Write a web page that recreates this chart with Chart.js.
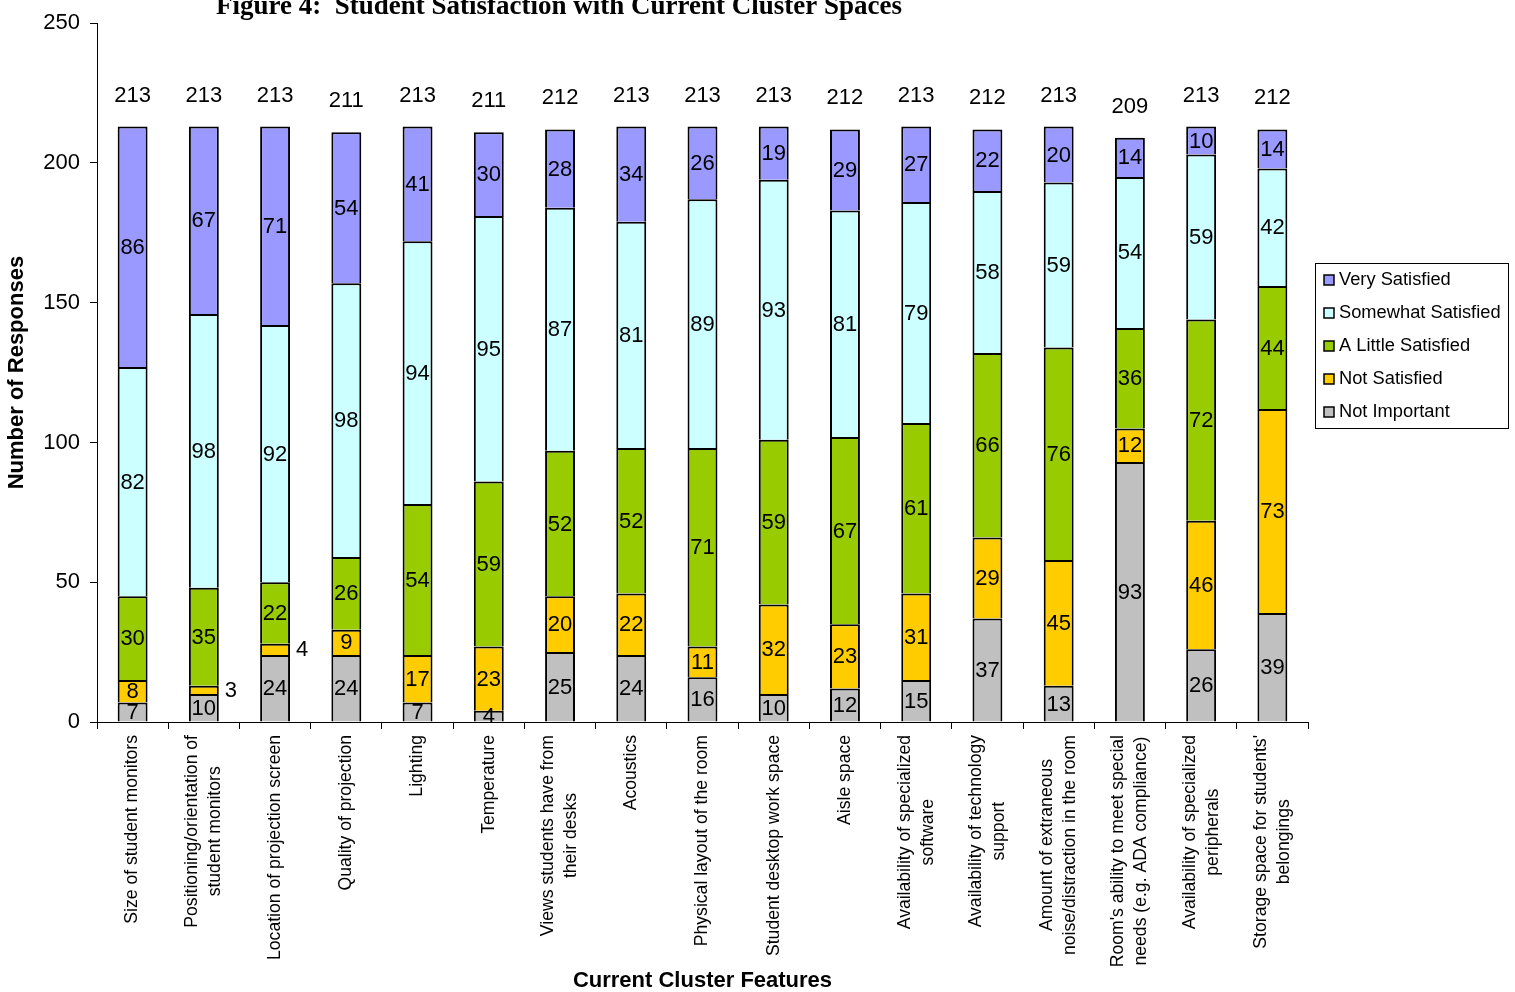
<!DOCTYPE html>
<html>
<head>
<meta charset="utf-8">
<script src="https://cdn.jsdelivr.net/npm/chart.js@4.4.1/dist/chart.umd.min.js"></script>
<style>
  html, body { margin: 0; padding: 0; background: #fff; }
  #wrap { width: 1515px; height: 992px; }
</style>
</head>
<body>
<div id="wrap"><canvas id="graph" width="1515" height="992"></canvas></div>
<script>
// 設問（2行ラベルは配列で）
const features = [
  ['Size of student monitors'],
  ['Positioning/orientation of', 'student monitors'],
  ['Location of projection screen'],
  ['Quality of projection'],
  ['Lighting'],
  ['Temperature'],
  ['Views students have from', 'their desks'],
  ['Acoustics'],
  ['Physical layout of the room'],
  ['Student desktop work space'],
  ['Aisle space'],
  ['Availability of specialized', 'software'],
  ['Availability of technology', 'support'],
  ['Amount of extraneous', 'noise/distraction in the room'],
  ["Room's ability to meet special", 'needs (e.g. ADA compliance)'],
  ['Availability of specialized', 'peripherals'],
  ["Storage space for students'", 'belongings']
];

// 回答数（下から積み上げ順）
const notImportant      = [7, 10, 24, 24, 7, 4, 25, 24, 16, 10, 12, 15, 37, 13, 93, 26, 39];
const notSatisfied      = [8, 3, 4, 9, 17, 23, 20, 22, 11, 32, 23, 31, 29, 45, 12, 46, 73];
const littleSatisfied   = [30, 35, 22, 26, 54, 59, 52, 52, 71, 59, 67, 61, 66, 76, 36, 72, 44];
const somewhatSatisfied = [82, 98, 92, 98, 94, 95, 87, 81, 89, 93, 81, 79, 58, 59, 54, 59, 42];
const verySatisfied     = [86, 67, 71, 54, 41, 30, 28, 34, 26, 19, 29, 27, 22, 20, 14, 10, 14];

const seriesNames = ['Not Important', 'Not Satisfied', 'A Little Satisfied', 'Somewhat Satisfied', 'Very Satisfied'];
const yTicks = [0, 50, 100, 150, 200, 250];

const SANS = 'Arial, "Liberation Sans", sans-serif';
const SERIF = '"Times New Roman", "Liberation Serif", serif';
const COLORS = {
  'Not Important': '#C0C0C0',
  'Not Satisfied': '#FFCC00',
  'A Little Satisfied': '#99CC00',
  'Somewhat Satisfied': '#CCFFFF',
  'Very Satisfied': '#9999FF'
};

//合計値
const totals = features.map((f, i) =>
  notImportant[i] + notSatisfied[i] + littleSatisfied[i] + somewhatSatisfied[i] + verySatisfied[i]);

//棒の中の数値と合計
const barLabelPlugin = {
  id: 'barLabels',
  afterDatasetsDraw(chart) {
    const ctx = chart.ctx;
    ctx.save();
    ctx.font = '22px ' + SANS;
    ctx.fillStyle = '#000';
    ctx.textBaseline = 'middle';
    chart.data.datasets.forEach((ds, di) => {
      const meta = chart.getDatasetMeta(di);
      meta.data.forEach((bar, i) => {
        const v = ds.data[i];
        const p = bar.getProps(['x', 'y', 'base', 'width'], true);
        const cy = (p.y + p.base) / 2 + 1;
        // 細すぎる Not Satisfied は棒の右側へ
        if (ds.label === 'Not Satisfied' && v < 5) {
          ctx.textAlign = 'left';
          ctx.fillText(String(v), p.x + p.width / 2 + 6, cy);
        } else {
          ctx.textAlign = 'center';
          ctx.fillText(String(v), p.x, cy);
        }
      });
    });
    const xs = chart.scales.x, ys = chart.scales.y;
    ctx.textAlign = 'center';
    totals.forEach((t, i) => {
      ctx.fillText(String(t), xs.getPixelForValue(i), ys.getPixelForValue(t) - 31);
    });
    ctx.restore();
  }
};

//タイトル、x軸ラベル、凡例
const decorPlugin = {
  id: 'decor',
  afterDraw(chart) {
    const ctx = chart.ctx;
    const xs = chart.scales.x;
    ctx.save();
    ctx.fillStyle = '#000';

    // タイトル
    ctx.font = 'bold 27px ' + SERIF;
    ctx.textAlign = 'center';
    ctx.textBaseline = 'alphabetic';
    ctx.fillText('Figure 4:  Student Satisfaction with Current Cluster Spaces', 559, 14);

    // x軸ラベル（縦書き、中央揃え）
    ctx.font = '17.6px ' + SANS;
    ctx.textBaseline = 'middle';
    features.forEach((lines, i) => {
      const x = xs.getPixelForValue(i);
      const w = Math.max(...lines.map(l => ctx.measureText(l).width));
      ctx.save();
      ctx.translate(x, xs.top + 13 + w / 2);
      ctx.rotate(-Math.PI / 2);
      lines.forEach((l, j) => {
        ctx.fillText(l, 0, (j - (lines.length - 1) / 2) * 23);
      });
      ctx.restore();
    });

    // 凡例
    const lx = 1315, ly = 263, lw = 193, lh = 165;
    ctx.lineWidth = 1;
    ctx.strokeStyle = '#000';
    ctx.strokeRect(lx + 0.5, ly + 0.5, lw, lh);
    ctx.font = '18.3px ' + SANS;
    ctx.textAlign = 'left';
    seriesNames.slice().reverse().forEach((name, k) => {
      const cy = ly + 17 + k * 33;
      ctx.fillStyle = COLORS[name];
      ctx.fillRect(lx + 9, cy - 5, 10, 10);
      ctx.lineWidth = 1.5;
      ctx.strokeRect(lx + 9, cy - 5, 10, 10);
      ctx.fillStyle = '#000';
      ctx.fillText(name, lx + 24, cy);
    });
    ctx.restore();
  }
};

const seriesData = [notImportant, notSatisfied, littleSatisfied, somewhatSatisfied, verySatisfied];

new Chart(document.getElementById('graph'), {
  type: 'bar',
  data: {
    labels: features,
    datasets: seriesNames.map((name, k) => ({
      label: name,
      data: seriesData[k],
      backgroundColor: COLORS[name],
      borderColor: '#000',
      borderWidth: 2,
      barPercentage: 0.42,
      categoryPercentage: 1.0
    }))
  },
  options: {
    responsive: false,
    animation: false,
    layout: { padding: { top: 22, right: 207, bottom: 0, left: 0 } },
    plugins: {
      legend: { display: false },
      tooltip: { enabled: false }
    },
    scales: {
      x: {
        stacked: true,
        ticks: { display: false },
        grid: { drawOnChartArea: false, drawTicks: true, tickLength: 7, color: '#000' , offset: true },
        border: { display: true, color: '#000', width: 1 },
        afterFit: s => { s.height = 270; },
        title: {
          display: true,
          text: 'Current Cluster Features',
          color: '#000',
          font: { family: SANS, size: 22, weight: 'bold', lineHeight: 1 },
          padding: { top: 0, bottom: 0 }
        }
      },
      y: {
        stacked: true,
        min: 0,
        max: 250,
        afterBuildTicks: s => { s.ticks = yTicks.map(v => ({ value: v })); },
        afterFit: s => { s.width = 97; },
        ticks: { color: '#000', font: { family: SANS, size: 22 }, padding: 10 },
        grid: { drawOnChartArea: false, drawTicks: true, tickLength: 7, color: '#000' },
        border: { display: true, color: '#000', width: 1 },
        title: {
          display: true,
          text: 'Number of Responses',
          color: '#000',
          font: { family: SANS, size: 22, weight: 'bold', lineHeight: 1 },
          padding: { top: 6, bottom: 0 }
        }
      }
    }
  },
  plugins: [barLabelPlugin, decorPlugin]
});
</script>
</body>
</html>
